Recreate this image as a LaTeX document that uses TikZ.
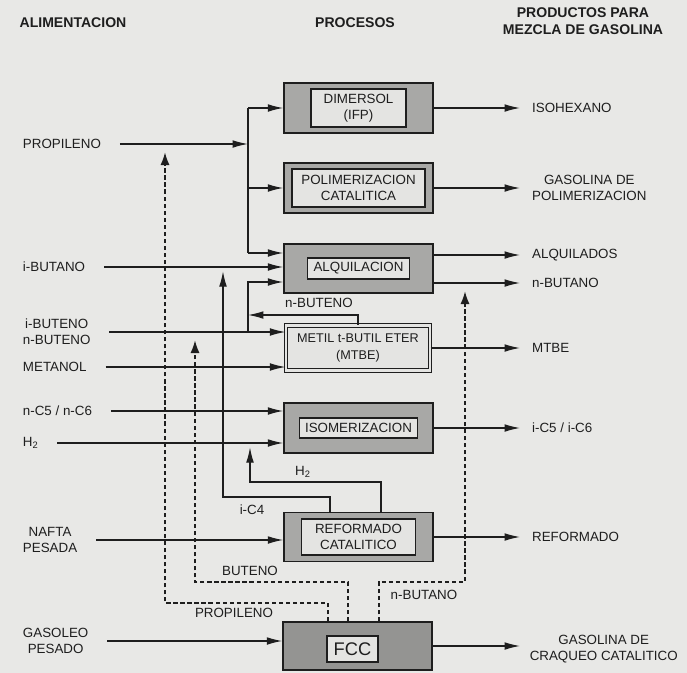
\documentclass[tikz,border=0pt]{standalone}
\usepackage{fontspec}
\setmainfont{Liberation Sans}
\usepackage{tikz}
\usetikzlibrary{arrows.meta, positioning}
\definecolor{bg_col}{RGB}{232, 232, 230}
\definecolor{box_col}{RGB}{168, 168, 166}
\definecolor{core_col}{RGB}{228, 228, 226}
\definecolor{ink_col}{RGB}{30, 30, 30}
\newcommand{\TXT}{\fontsize{9.5}{11.5}\selectfont}
\newcommand{\HDR}{\fontsize{10}{12}\selectfont\bfseries}

\begin{document}
\begin{tikzpicture}[
    x=0.025cm, y=-0.025cm,
    every node/.style={font=\TXT, text=ink_col},
    lbl/.style={anchor=west, align=center},
    hdr/.style={font=\HDR, align=center},
    proc/.style={draw=ink_col, line width=1pt, fill=box_col, minimum width=3.725cm, minimum height=1.25cm, inner sep=0pt},
    core/.style={draw=ink_col, line width=1.1pt, fill=core_col, inner sep=0pt, align=center},
    pipe/.style={draw=ink_col, line width=0.9pt},
    flow/.style={pipe, -{Latex[length=11pt, width=5.5pt]}},
    feed/.style={flow, shorten <=0.35cm},
    upin/.style={flow, shorten >=3pt},
    recyc/.style={pipe, dash pattern=on 3pt off 2pt, -{Latex[length=9pt, width=6.5pt]}, shorten >=6pt},
]
  \fill[bg_col] (0,0) rectangle (687,673);
  \useasboundingbox (0,0) rectangle (687,673);

  \node[hdr] (hFeed) at (73,23) {ALIMENTACION};
  \node[hdr] (hProc) at (355,23) {PROCESOS};
  \node[hdr] (hProd) at (583,21) {PRODUCTOS PARA\\MEZCLA DE GASOLINA};

  % process units
  \node[proc] (dim) at (358.5,108) {};
  \node[core, minimum width=2.375cm, minimum height=0.95cm] (dimIn) at (dim) {DIMERSOL\\(IFP)};
  \node[proc] (pol) at (358.5,188) {};
  \node[core, minimum width=3.325cm, minimum height=0.95cm] (polIn) at (pol) {POLIMERIZACION\\CATALITICA};
  \node[proc, minimum height=1.225cm] (alq) at (358.5,268.5) {};
  \node[core, minimum width=2.55cm, minimum height=0.525cm] (alqIn) at (alq) {ALQUILACION};
  \node[proc, fill=core_col, line width=0.8pt, double=core_col, double distance=1.6pt,
        minimum width=3.6cm, minimum height=1.13cm, align=center,
        font=\fontsize{9}{11.5}\selectfont] (mtbe) at (358,348) {METIL t-BUTIL ETER\\(MTBE)};
  \node[proc] (iso) at (358.5,428) {};
  \node[core, minimum width=2.95cm, minimum height=0.5cm] (isoIn) at (iso) {ISOMERIZACION};
  \node[proc, minimum height=1.225cm] (ref) at (358.5,537) {};
  \node[core, minimum width=2.85cm, minimum height=0.9cm] (refIn) at (ref) {REFORMADO\\CATALITICO};
  \node[proc, fill=box_col!88!black, minimum height=1.2cm] (fcc) at (357.5,646) {};
  \node[core, minimum width=1.275cm, minimum height=0.65cm, font=\fontsize{13}{15}\selectfont] (fccIn) at (352.5,649) {FCC};

  % feeds
  \node[lbl] (fProp) at (18,144) {PROPILENO};
  \node[lbl] (fIbut) at (18,267) {i-BUTANO};
  \node[lbl] (fButen) at (18,332) {i-BUTENO\\n-BUTENO};
  \node[lbl] (fMet) at (18,367) {METANOL};
  \node[lbl] (fNc) at (18,411) {n-C5 / n-C6};
  \node[lbl] (fH) at (18,443) {H\textsubscript{2}};
  \node[lbl] (fNaf) at (18,540) {NAFTA\\PESADA};
  \node[lbl] (fGas) at (18,641) {GASOLEO\\PESADO};

  \coordinate (trunk) at (248,0);
  \coordinate (jA1) at (248,253);
  \coordinate (jA3) at (248,282);
  \coordinate (jB) at (fButen.east -| trunk);
  \coordinate (jNb) at (248,315);

  \draw[feed] (fProp.east) -- (fProp.east -| trunk);
  \draw[pipe] (dim.west -| trunk) -- (jA1);
  \draw[flow] (dim.west -| trunk) -- (dim.west);
  \draw[flow] (pol.west -| trunk) -- (pol.west);
  \draw[flow] (jA1) -- (jA1 -| alq.west);
  \draw[feed] (fIbut.east) -- (fIbut.east -| alq.west);
  \draw[feed] (fButen.east) -- (fButen.east -| mtbe.west);
  \draw[flow] (jB) -- (jA3) -- (jA3 -| alq.west);
  \draw[flow] (mtbe.north) |- (jNb);
  \draw[feed] (fMet.east) -- (fMet.east -| mtbe.west);
  \draw[feed] (fNc.east) -- (fNc.east -| iso.west);
  \draw[feed] (fH.east) -- (fH.east -| iso.west);
  \draw[feed] (fNaf.east) -- (fNaf.east -| ref.west);
  \draw[feed] (fGas.east) -- (fGas.east -| fcc.west);

  % reformer side streams
  \coordinate (kI) at (330,497);
  \coordinate (jI) at (223,267);
  \draw[upin] (kI |- ref.north) -- (kI) -| (jI);
  \coordinate (kH) at (381,482);
  \coordinate (jH) at (250,443);
  \draw[upin] (kH |- ref.north) -- (kH) -| (jH);

  % FCC light ends
  \coordinate (dP) at (328,603);
  \coordinate (jP) at (165,144);
  \draw[recyc] (dP |- fcc.north) -- (dP) -| (jP);
  \coordinate (dB) at (348,582);
  \coordinate (jBt) at (195,332);
  \draw[recyc] (dB |- fcc.north) -- (dB) -| (jBt);
  \coordinate (dN) at (379,582);
  \coordinate (jN) at (465,283);
  \draw[recyc] (dN |- fcc.north) -- (dN) -| (jN);

  \node (tNb) at (319,303) {n-BUTENO};
  \node (tH) at (303,472) {H\textsubscript{2}};
  \node (tIc) at (252,510) {i-C4};
  \node (tBut) at (250,571) {BUTENO};
  \node (tProp) at (234,613) {PROPILENO};
  \node (tNbut) at (424,595) {n-BUTANO};

  % products
  \coordinate (outx) at (520,0);
  \coordinate (oDim) at (dim.east -| outx);
  \coordinate (oPol) at (pol.east -| outx);
  \coordinate (oAlq) at (520,255);
  \coordinate (oBut) at (520,283);
  \coordinate (oMtbe) at (mtbe.east -| outx);
  \coordinate (oIso) at (iso.east -| outx);
  \coordinate (oRef) at (ref.east -| outx);
  \coordinate (oFcc) at (fcc.east -| outx);

  \draw[flow] (dim.east) -- (oDim);
  \draw[flow] (pol.east) -- (oPol);
  \draw[flow] (oAlq -| alq.east) -- (oAlq);
  \draw[flow] (oBut -| alq.east) -- (oBut);
  \draw[flow] (mtbe.east) -- (oMtbe);
  \draw[flow] (iso.east) -- (oIso);
  \draw[flow] (ref.east) -- (oRef);
  \draw[flow] (fcc.east) -- (oFcc);

  \node[right=0.18cm of oDim] (pIso) {ISOHEXANO};
  \node[right=0.18cm of oPol, align=center] (pPol) {GASOLINA DE\\POLIMERIZACION};
  \node[right=0.18cm of oAlq] (pAlq) {ALQUILADOS};
  \node[right=0.18cm of oBut] (pBut) {n-BUTANO};
  \node[right=0.18cm of oMtbe] (pMtbe) {MTBE};
  \node[right=0.18cm of oIso] (pIc) {i-C5 / i-C6};
  \node[right=0.18cm of oRef] (pRef) {REFORMADO};
  \node[right=0.12cm of oFcc, yshift=-2pt, align=center] (pFcc) {GASOLINA DE\\CRAQUEO CATALITICO};
\end{tikzpicture}
\end{document}
